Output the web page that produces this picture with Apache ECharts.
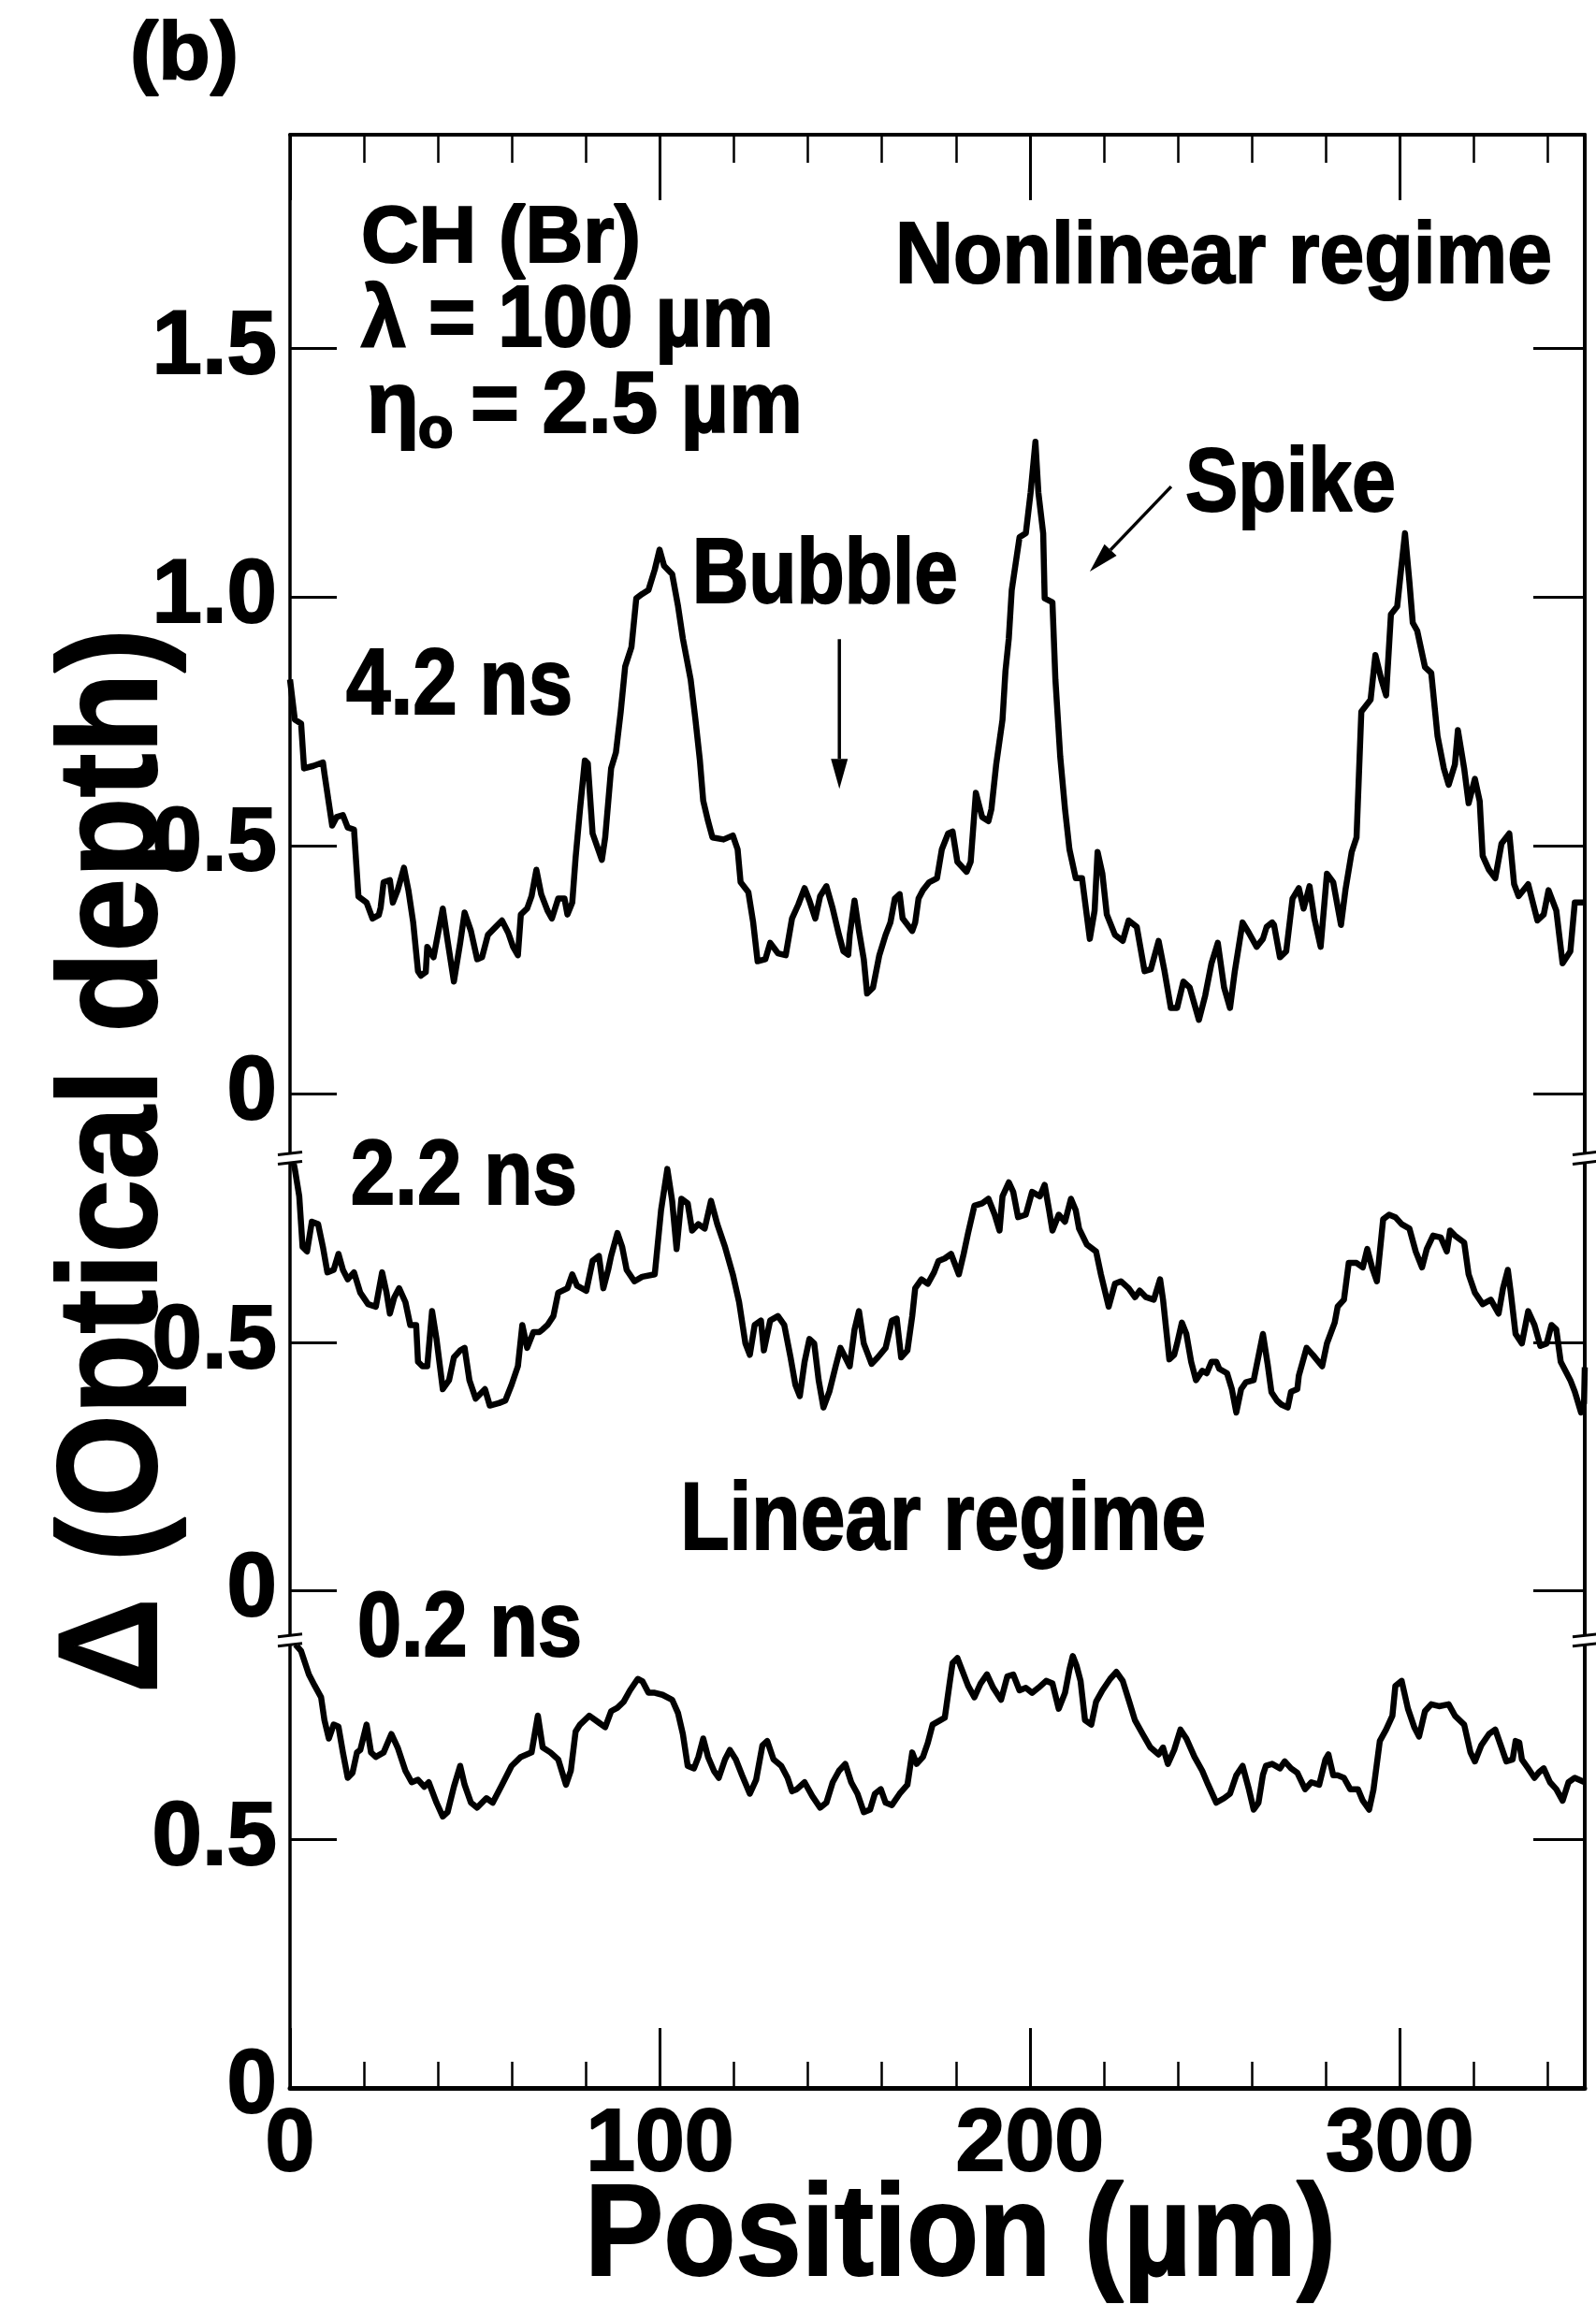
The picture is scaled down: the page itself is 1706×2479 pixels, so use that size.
<!DOCTYPE html>
<html>
<head>
<meta charset="utf-8">
<title>Optical depth vs position</title>
<script src="https://cdn.jsdelivr.net/npm/echarts@6.0.0/dist/echarts.min.js"></script>
<style>
html,body{margin:0;padding:0;background:#fff;}
#chart{width:1706px;height:2479px;}
</style>
</head>
<body>
<div id="chart"></div>
<script>
// ---------------- data ----------------
const seriesNames = ['4.2 ns', '2.2 ns', '0.2 ns'];

const pos42 = [0,1.3,3.0,3.8,6.3,8.9,9.3,11.4,12.6,14.3,15.6,17.3,18.5,20.7,22.3,24.0,24.5,25.3,27.0,27.8,29.1,30.8,32.0,33.3,34.6,35.4,36.7,37.1,38.8,41.3,42.6,44.3,46.0,47.2,48.9,50.6,51.9,53.5,55.6,57.3,59.0,60.3,61.6,62.4,64.1,65.3,66.6,67.9,69.6,70.8,72.5,74.2,75.0,76.3,77.2,78.4,79.7,80.5,81.8,84.3,85.2,86.8,88.1,89.4,90.6,92.3,93.6,95.2,96.9,98.6,99.9,101.1,103.3,104.9,106.2,108.3,109.6,110.8,111.7,113.0,114.2,117.2,119.7,121.0,121.8,123.9,125.2,126.4,128.5,129.8,131.9,134.0,135.7,137.4,139.1,140.4,142.0,143.3,145.0,146.7,148.4,149.6,150.9,151.3,152.6,153.8,155.1,156.0,157.6,159.3,161.0,162.3,163.5,164.8,165.6,168.2,169.0,169.9,171.1,172.8,174.9,176.2,177.9,179.1,180.4,182.9,184.0,185.4,187.1,188.8,189.6,190.9,192.6,193.4,194.3,195.1,197.2,198.9,200.2,201.5,202.3,203.6,204.0,206.1,206.9,208.2,209.5,210.7,212.4,214.1,216.2,217.5,218.3,219.6,220.8,223.0,225.1,226.7,228.9,231.0,232.7,234.8,236.4,238.1,239.8,241.5,243.2,245.7,247.4,249.1,250.8,252.5,254.1,255.4,257.5,259.2,261.3,263.0,264.0,265.5,266.0,267.6,269.3,271.0,272.7,274.0,275.6,276.9,278.6,280.3,282.0,284.1,285.3,287.0,288.3,289.6,292.1,293.4,295.0,296.3,297.6,299.3,300.1,301.4,302.6,303.5,304.7,306.8,308.5,310.2,311.9,313.2,314.9,315.7,317.4,318.6,320.3,321.6,322.4,324.1,325.8,327.5,329.6,330.9,332.1,334.7,337.2,338.9,340.2,342.3,344.0,346.1,347.3,350.0];
const val42 = [0.834,0.753,0.745,0.655,0.660,0.667,0.645,0.540,0.557,0.561,0.536,0.532,0.397,0.385,0.353,0.360,0.375,0.426,0.430,0.385,0.410,0.455,0.410,0.345,0.247,0.238,0.245,0.296,0.275,0.373,0.308,0.226,0.304,0.365,0.328,0.271,0.275,0.320,0.336,0.349,0.324,0.296,0.279,0.361,0.373,0.398,0.451,0.402,0.369,0.353,0.393,0.393,0.361,0.385,0.475,0.573,0.671,0.665,0.524,0.471,0.516,0.655,0.687,0.769,0.860,0.899,0.997,1.006,1.014,1.055,1.095,1.063,1.046,0.981,0.916,0.834,0.753,0.671,0.590,0.549,0.516,0.512,0.520,0.492,0.426,0.406,0.345,0.267,0.271,0.304,0.283,0.279,0.353,0.381,0.414,0.389,0.353,0.398,0.418,0.373,0.320,0.287,0.280,0.320,0.389,0.328,0.271,0.202,0.214,0.279,0.320,0.345,0.393,0.402,0.353,0.328,0.345,0.393,0.410,0.426,0.434,0.492,0.524,0.528,0.467,0.447,0.467,0.606,0.557,0.549,0.573,0.663,0.753,0.851,0.916,1.014,1.120,1.128,1.210,1.312,1.210,1.128,0.997,0.989,0.834,0.679,0.573,0.492,0.434,0.434,0.312,0.369,0.487,0.443,0.361,0.320,0.308,0.349,0.336,0.247,0.251,0.308,0.247,0.173,0.173,0.226,0.214,0.149,0.198,0.263,0.304,0.214,0.173,0.247,0.345,0.324,0.296,0.312,0.336,0.345,0.340,0.275,0.287,0.393,0.414,0.373,0.418,0.353,0.296,0.443,0.426,0.340,0.410,0.487,0.516,0.769,0.793,0.883,0.834,0.802,0.965,0.981,1.038,1.128,1.030,0.948,0.932,0.859,0.847,0.720,0.655,0.622,0.663,0.732,0.655,0.585,0.634,0.589,0.479,0.451,0.434,0.504,0.524,0.422,0.398,0.422,0.349,0.361,0.410,0.369,0.263,0.287,0.385,0.385];

const pos22 = [0.8,1.3,2.5,3.4,4.6,5.9,7.6,8.9,10.1,11.8,13.1,14.3,15.6,17.3,19.0,21.1,23.2,24.9,26.1,27.0,28.2,29.5,31.2,32.5,34.1,34.6,35.8,37.1,38.4,39.6,41.3,43.0,44.3,46.0,47.2,48.5,50.2,52.7,54.0,56.5,58.2,59.9,61.6,62.8,64.1,65.8,67.4,68.3,69.6,71.2,72.5,75.0,76.3,77.6,80.1,81.8,83.5,84.7,86.0,86.8,88.5,89.8,91.0,93.1,95.2,98.6,100.3,102.0,103.3,104.5,105.8,107.5,108.7,110.4,112.1,113.8,115.5,117.6,119.7,121.4,123.1,124.3,125.6,127.3,128.1,129.8,131.9,133.6,135.3,136.6,137.8,139.1,140.4,141.7,142.9,144.2,145.8,147.5,148.8,150.1,151.3,152.6,153.8,155.1,157.2,158.9,161.0,162.7,164.0,165.2,166.9,168.2,169.0,170.7,172.4,174.1,175.3,177.0,178.7,180.8,182.1,183.3,185.0,187.1,188.8,190.5,191.8,192.6,194.3,195.5,196.8,198.9,200.6,202.7,204.0,205.2,206.1,207.8,209.5,211.1,212.4,213.3,215.4,217.9,219.2,221.3,223.0,224.6,226.7,228.4,229.7,231.4,233.5,235.2,236.0,237.7,239.0,239.8,241.1,242.3,243.6,244.9,246.6,247.8,249.1,250.4,251.2,253.3,254.6,255.8,257.1,258.4,260.5,263.0,264.3,265.3,266.8,268.0,269.7,270.6,272.3,272.7,274.8,276.5,279.0,280.3,282.4,283.2,284.9,286.2,288.3,290.0,291.2,292.5,293.8,295.5,297.1,298.8,300.5,302.6,304.3,306.0,307.3,309.0,311.1,312.7,313.6,314.9,317.4,318.6,320.3,322.4,324.6,326.7,327.9,329.2,330.0,331.3,333.0,334.7,336.4,338.0,339.7,341.0,342.3,343.5,346.1,347.3,349.0,349.8,350.0];
const val22 = [0.868,0.849,0.794,0.692,0.683,0.743,0.738,0.692,0.641,0.646,0.678,0.646,0.627,0.641,0.600,0.577,0.572,0.641,0.600,0.558,0.591,0.609,0.581,0.535,0.535,0.461,0.452,0.452,0.563,0.507,0.406,0.424,0.470,0.484,0.489,0.424,0.387,0.406,0.373,0.378,0.383,0.415,0.452,0.535,0.489,0.521,0.521,0.526,0.535,0.553,0.600,0.609,0.637,0.614,0.604,0.664,0.674,0.609,0.646,0.674,0.720,0.692,0.646,0.623,0.632,0.637,0.766,0.849,0.785,0.688,0.789,0.780,0.725,0.738,0.729,0.785,0.738,0.692,0.637,0.581,0.498,0.475,0.535,0.544,0.484,0.544,0.553,0.535,0.470,0.415,0.392,0.461,0.507,0.498,0.424,0.369,0.401,0.452,0.489,0.470,0.452,0.526,0.563,0.498,0.457,0.470,0.489,0.544,0.548,0.470,0.484,0.553,0.609,0.627,0.618,0.641,0.664,0.669,0.678,0.637,0.678,0.720,0.775,0.780,0.789,0.757,0.725,0.794,0.822,0.803,0.752,0.757,0.803,0.794,0.817,0.766,0.725,0.757,0.743,0.789,0.766,0.729,0.697,0.683,0.637,0.572,0.618,0.623,0.609,0.591,0.604,0.591,0.586,0.627,0.586,0.466,0.475,0.498,0.540,0.517,0.461,0.424,0.443,0.438,0.461,0.461,0.447,0.438,0.406,0.359,0.406,0.420,0.424,0.517,0.455,0.400,0.383,0.375,0.369,0.401,0.406,0.433,0.489,0.475,0.452,0.498,0.540,0.572,0.586,0.660,0.660,0.651,0.688,0.651,0.623,0.748,0.757,0.752,0.738,0.729,0.683,0.651,0.688,0.715,0.711,0.683,0.725,0.715,0.701,0.637,0.600,0.577,0.586,0.558,0.609,0.646,0.600,0.517,0.498,0.563,0.535,0.493,0.498,0.535,0.526,0.461,0.424,0.401,0.359,0.378,0.450];

const pos02 = [1.5,3.0,5.1,6.7,8.4,9.3,10.5,11.8,13.1,14.3,15.6,16.9,18.1,19.0,20.7,21.9,23.2,25.3,27.4,29.1,31.2,32.9,34.6,36.3,37.5,39.6,41.3,42.6,44.3,46.0,47.2,48.9,50.6,53.1,54.8,57.3,59.9,62.4,65.3,67.0,68.3,70.4,72.5,74.6,75.9,77.2,78.4,80.9,83.5,85.2,86.8,88.5,90.2,91.9,94.0,95.3,96.9,98.6,100.7,103.3,104.9,106.2,107.5,109.2,110.4,111.7,113.0,114.6,115.9,117.6,118.9,120.5,122.2,124.3,126.0,127.7,129.0,130.7,132.8,134.5,135.7,137.0,139.1,141.2,143.3,145.0,146.7,148.4,150.1,151.7,153.4,155.1,156.8,158.1,159.7,161.0,162.7,164.8,166.9,168.2,169.4,171.1,172.4,173.7,175.8,177.0,178.3,179.1,180.4,181.6,183.3,185.0,186.7,188.4,190.1,192.2,193.9,195.5,197.2,198.9,200.6,202.3,204.4,206.1,207.8,209.5,210.7,211.6,212.6,213.7,214.9,216.6,217.9,219.6,221.7,223.4,225.1,226.7,228.4,230.5,232.6,234.8,236.0,237.3,239.0,240.7,242.3,244.5,246.6,248.2,250.4,252.5,254.1,255.8,257.5,259.2,260.5,261.8,263.0,263.8,265.5,267.6,268.9,270.6,272.3,274.4,276.1,278.2,279.9,280.7,282.0,283.2,284.9,286.6,288.7,290.0,291.7,292.9,294.6,296.3,298.0,298.8,300.5,302.2,303.9,305.2,306.8,308.5,310.6,313.2,314.9,317.4,319.1,320.3,322.0,324.1,325.8,327.5,328.8,330.5,331.3,332.3,333.0,334.7,336.4,337.6,338.9,340.6,342.3,344.0,345.6,347.3,350.0];
const val02 = [0.892,0.879,0.832,0.809,0.786,0.740,0.703,0.731,0.727,0.675,0.624,0.634,0.675,0.680,0.731,0.675,0.666,0.675,0.712,0.685,0.638,0.615,0.620,0.606,0.615,0.574,0.546,0.555,0.606,0.648,0.610,0.574,0.564,0.583,0.574,0.610,0.648,0.666,0.675,0.749,0.685,0.675,0.661,0.610,0.638,0.717,0.731,0.749,0.735,0.726,0.758,0.765,0.777,0.800,0.823,0.818,0.795,0.795,0.791,0.781,0.754,0.712,0.648,0.643,0.666,0.703,0.666,0.638,0.624,0.661,0.680,0.661,0.629,0.592,0.620,0.689,0.698,0.661,0.648,0.624,0.597,0.601,0.615,0.587,0.564,0.574,0.615,0.638,0.652,0.615,0.592,0.555,0.560,0.592,0.601,0.574,0.569,0.592,0.610,0.675,0.652,0.666,0.694,0.731,0.740,0.745,0.814,0.855,0.865,0.842,0.809,0.786,0.814,0.832,0.805,0.781,0.828,0.832,0.800,0.805,0.795,0.805,0.819,0.814,0.763,0.795,0.842,0.869,0.850,0.819,0.740,0.731,0.777,0.800,0.823,0.837,0.819,0.781,0.740,0.712,0.685,0.671,0.685,0.652,0.680,0.721,0.703,0.666,0.638,0.610,0.574,0.583,0.592,0.629,0.648,0.601,0.560,0.574,0.630,0.648,0.652,0.643,0.657,0.643,0.634,0.601,0.615,0.610,0.661,0.671,0.629,0.629,0.624,0.601,0.601,0.578,0.560,0.601,0.698,0.721,0.749,0.809,0.819,0.763,0.726,0.707,0.758,0.772,0.768,0.772,0.749,0.731,0.675,0.657,0.689,0.712,0.721,0.685,0.657,0.661,0.698,0.695,0.661,0.643,0.624,0.635,0.643,0.615,0.601,0.578,0.615,0.624,0.615];

const xTickValues = [0, 100, 200, 300];
const xTickLabels = ['0', '100', '200', '300'];
const yTickValues = [0, 0.5, 1.0, 1.5, 2.0, 2.5, 3.0, 3.5];
const yTickLabels = ['0', '0.5', '0', '0.5', '0', '0.5', '1.0', '1.5'];

// ---------------- chart ----------------
const FONT = '"Liberation Sans", Arial, Helvetica, sans-serif';
const X_MAX = 350, Y_MAX = 3.93;
const panelBase = [2, 1, 0];           // vertical stacking of the three panels
const curves = [[pos42, val42], [pos22, val22], [pos02, val02]];

const chart = echarts.init(document.getElementById('chart'), null, {renderer: 'canvas', width: 1706, height: 2479});

function pickLabel(vals, labels) {
  return function (v) {
    const i = vals.findIndex(t => Math.abs(t - v) < 1e-6);
    return i >= 0 ? labels[i] : '';
  };
}
function xAx(extra) {
  return Object.assign({
    type: 'value', min: 0, max: X_MAX, splitLine: {show: false},
    axisLine: {show: false, onZero: false}, axisLabel: {show: false},
    axisTick: {show: false}
  }, extra);
}
function yAx(extra) {
  return Object.assign({
    type: 'value', min: 0, max: Y_MAX, interval: 0.5, splitLine: {show: false},
    axisLine: {show: false, onZero: false}, axisLabel: {show: false},
    axisTick: {show: false}
  }, extra);
}

const option = {
  animation: false,
  backgroundColor: '#fff',
  grid: {left: 310, right: 12, top: 144, bottom: 247, containLabel: false, outerBoundsMode: 'none'},
  xAxis: [
    xAx({position: 'bottom', interval: 100,
      axisLine: {show: true, onZero: false, lineStyle: {color: '#000', width: 5}},
      axisTick: {show: true, inside: true, length: 64, lineStyle: {color: '#000', width: 3}},
      axisLabel: {show: true, formatter: pickLabel(xTickValues, xTickLabels), color: '#000',
        fontSize: 95, fontWeight: 'bold', fontFamily: FONT, margin: 14, hideOverlap: false,
        textBorderColor: '#000', textBorderWidth: 2}}),
    xAx({position: 'bottom', interval: 20,
      axisTick: {show: true, inside: true, length: 28, lineStyle: {color: '#000', width: 2.5}}}),
    xAx({position: 'top', interval: 100,
      axisLine: {show: true, onZero: false, lineStyle: {color: '#000', width: 4}},
      axisTick: {show: true, inside: true, length: 70, lineStyle: {color: '#000', width: 3}}}),
    xAx({position: 'top', interval: 20,
      axisTick: {show: true, inside: true, length: 30, lineStyle: {color: '#000', width: 2.5}}})
  ],
  yAxis: [
    yAx({position: 'left',
      axisLine: {show: true, onZero: false, lineStyle: {color: '#000', width: 3.5}},
      axisTick: {show: true, inside: true, length: 50, lineStyle: {color: '#000', width: 3}},
      axisLabel: {show: true, formatter: pickLabel(yTickValues, yTickLabels), color: '#000',
        fontSize: 96, fontWeight: 'bold', fontFamily: FONT, margin: 14, hideOverlap: false,
        textBorderColor: '#000', textBorderWidth: 2}}),
    yAx({position: 'right',
      axisLine: {show: true, onZero: false, lineStyle: {color: '#000', width: 4}},
      axisTick: {show: true, inside: true, length: 55, lineStyle: {color: '#000', width: 3}}})
  ],
  series: curves.map((c, k) => ({
    name: seriesNames[k], type: 'line', xAxisIndex: 0, yAxisIndex: 0,
    showSymbol: false, symbol: 'none', smooth: false, clip: true,
    lineStyle: {color: '#000', width: 6.5, join: 'round'},
    data: c[0].map((x, i) => [x, c[1][i] + panelBase[k]])
  }))
};
chart.setOption(option);

// ---------------- annotations ----------------
const meas = document.createElement('canvas').getContext('2d');
function txt(text, x, y, size, width, extra) {
  const font = 'bold ' + size + 'px ' + FONT;
  meas.font = font;
  const w = meas.measureText(text).width;
  const align = (extra && extra.align) || 'left';
  return {
    type: 'text', x: x, y: y, scaleX: width ? width / w : 1, silent: true, z: 100,
    rotation: (extra && extra.rotation) || 0,
    style: {text: text, font: font, fill: '#000', stroke: '#000', lineWidth: (extra && extra.bold) || 2,
      align: align, verticalAlign: 'middle', textAlign: align, textVerticalAlign: 'middle'}
  };
}
const P = (x, v) => chart.convertToPixel({seriesIndex: 0}, [x, v]);

const notes = [
  {text: 'Nonlinear regime', at: [163.6, 3.680], size: 92, width: 702},
  {text: 'CH (Br)', at: [19.2, 3.719], size: 86, width: 299},
  {text: 'λ = 100 µm', at: [19.2, 3.552], size: 92, width: 441},
  {text: 'η', at: [20.7, 3.379], size: 92},
  {text: 'o', at: [34.6, 3.333], size: 62},
  {text: '= 2.5 µm', at: [48.8, 3.379], size: 92, width: 355},
  {text: 'Bubble', at: [108.7, 3.040], size: 98, width: 284},
  {text: 'Spike', at: [242.0, 3.224], size: 96, width: 225},
  {text: '4.2 ns', at: [15.2, 2.816], size: 100, width: 242},
  {text: '2.2 ns', at: [16.4, 1.830], size: 98, width: 242},
  {text: '0.2 ns', at: [18.2, 0.920], size: 98, width: 240},
  {text: 'Linear regime', at: [105.5, 1.137], size: 102, width: 562}
];
const arrows = [
  {from: [148.5, 2.915], to: [148.5, 2.614]},   // Bubble
  {from: [238.2, 3.222], to: [216.2, 3.051]}    // Spike
];
const breaks = [1.87, 0.90];

const g = [];
notes.forEach(n => {
  const p = P(n.at[0], n.at[1]);
  g.push(txt(n.text, p[0], p[1], n.size, n.width));
});
arrows.forEach(a => {
  const p1 = P(a.from[0], a.from[1]), p2 = P(a.to[0], a.to[1]);
  const dx = p2[0] - p1[0], dy = p2[1] - p1[1], L = Math.hypot(dx, dy);
  const ux = dx / L, uy = dy / L, len = 32, hw = 9;
  const bx = p2[0] - ux * len, by = p2[1] - uy * len;
  g.push({type: 'line', silent: true, z: 100, shape: {x1: p1[0], y1: p1[1], x2: bx, y2: by},
    style: {stroke: '#000', lineWidth: 3.5}});
  g.push({type: 'polygon', silent: true, z: 100,
    shape: {points: [[p2[0], p2[1]], [bx - uy * hw, by + ux * hw], [bx + uy * hw, by - ux * hw]]},
    style: {fill: '#000'}});
});
breaks.forEach(v => {
  [0, X_MAX].forEach(x => {
    const p = P(x, v);
    g.push({type: 'rect', silent: true, z: 101, shape: {x: p[0] - 9, y: p[1] - 5, width: 18, height: 10},
      style: {fill: '#fff'}});
    g.push({type: 'line', silent: true, z: 102, shape: {x1: p[0] - 13, y1: p[1] - 4, x2: p[0] + 13, y2: p[1] - 7},
      style: {stroke: '#000', lineWidth: 3}});
    g.push({type: 'line', silent: true, z: 102, shape: {x1: p[0] - 13, y1: p[1] + 6, x2: p[0] + 13, y2: p[1] + 3},
      style: {stroke: '#000', lineWidth: 3}});
  });
});
// panel label and axis titles
g.push(txt('(b)', 139, 60, 88, 116));
g.push(txt('Position (µm)', 625, 2393, 140, 803));
g.push(txt('Δ (Optical depth)', 126, 1241, 150, 1138, {rotation: Math.PI / 2, align: 'center'}));

chart.setOption({graphic: {elements: g}});
</script>
</body>
</html>
